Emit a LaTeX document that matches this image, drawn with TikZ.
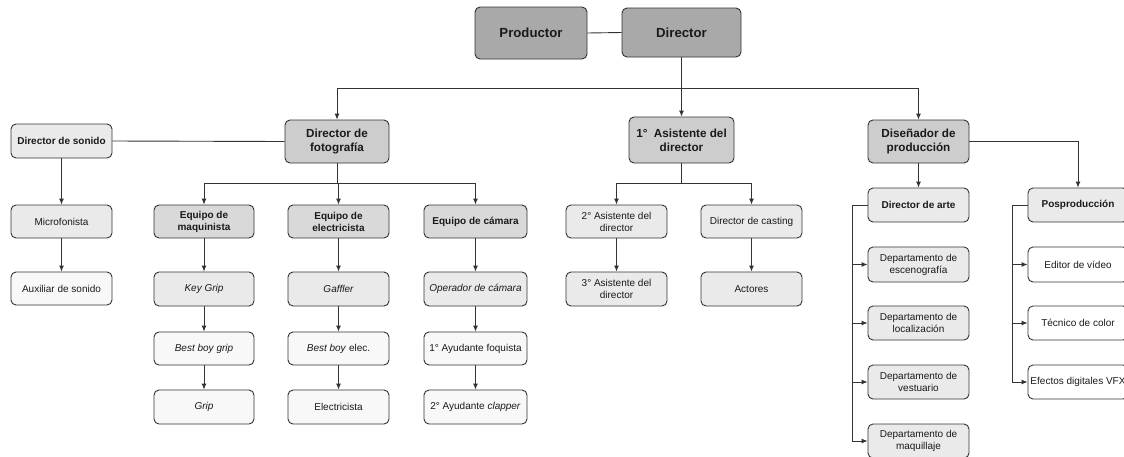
\documentclass[tikz,border=0pt]{standalone}
\usepackage{fontspec}
\setmainfont{Liberation Sans}
\usetikzlibrary{arrows.meta}
\definecolor{cTop}{HTML}{A9A9A9}
\definecolor{cMid}{HTML}{CDCDCD}
\definecolor{cHead}{HTML}{D9D9D9}
\definecolor{cLight}{HTML}{EAEAEA}
\definecolor{cPale}{HTML}{F8F8F8}
\definecolor{cLine}{HTML}{333333}
\definecolor{cText}{HTML}{1A1A1A}
\tikzset{
  box/.style={rectangle, rounded corners=5pt, draw=cLine, line width=0.9pt, inner sep=0pt,
    align=center, text=cText, minimum width=101pt, minimum height=34pt,
    font=\fontsize{10}{12}\selectfont},
  topbox/.style={box, fill=cTop, font=\fontsize{13.2}{15}\selectfont\bfseries},
  midbox/.style={box, fill=cMid, minimum height=43pt, font=\fontsize{11.7}{14}\selectfont\bfseries},
  headbox/.style={box, fill=cHead, font=\fontsize{10}{12}\selectfont\bfseries},
  lightbox/.style={box, fill=cLight},
  palebox/.style={box, fill=cPale},
  whitebox/.style={box, fill=white},
  arr/.style={draw=cLine, line width=0.9pt, -{Latex[length=6pt,width=5pt]}},
  ln/.style={draw=cLine, line width=0.9pt},
}
\begin{document}
\begin{tikzpicture}[x=1pt,y=-1pt]
\clip (0,0) rectangle (1124,456);
\useasboundingbox (0,0) rectangle (1124,456);
\fill[white] (0,0) rectangle (1124,456);
% top
\node[topbox, minimum width=112pt, minimum height=52pt] (prod) at (531,33) {Productor};
\node[topbox, minimum width=119pt, minimum height=49pt] (dir) at (681.5,32.5) {Director};
% level 1
\node[headbox, fill=cLight] (sonido) at (61.5,141) {Director de sonido};
\node[midbox, minimum width=104pt] (dfoto) at (337,141.5) {Director de\\fotografía};
\node[midbox, minimum width=105pt, minimum height=46pt] (asis1) at (681.5,140) {1°~ Asistente del\\director};
\node[midbox] (dise) at (918.5,141.5) {Diseñador de\\producción};
% sound
\node[lightbox, minimum height=33pt] (micro) at (61.5,221.5) {Microfonista};
\node[palebox, minimum height=33pt] (aux) at (61.5,288.5) {Auxiliar de sonido};
% photography
\node[headbox, minimum width=100pt, minimum height=33pt] (maq) at (204,221.5) {Equipo de\\maquinista};
\node[headbox, minimum height=33pt] (elec) at (338.5,221.5) {Equipo de\\electricista};
\node[headbox, minimum width=103pt, minimum height=33pt] (cam) at (475.5,221.5) {Equipo de cámara};
\node[lightbox, minimum width=100pt] (keygrip) at (204,289) {\itshape Key Grip};
\node[lightbox] (gaffer) at (338.5,289) {\itshape Gaffler};
\node[lightbox, minimum width=103pt] (oper) at (475.5,289) {\itshape Operador de cámara};
\node[palebox, minimum width=100pt, minimum height=33pt] (bbgrip) at (204,348.5) {\itshape Best boy grip};
\node[palebox, minimum height=33pt] (bbelec) at (338.5,348.5) {\textit{Best boy} elec.};
\node[palebox, minimum width=103pt, minimum height=33pt] (foq) at (475.5,348.5) {1° Ayudante foquista};
\node[palebox, minimum width=100pt] (grip) at (204,407) {\itshape Grip};
\node[palebox] (electricista) at (338.5,407) {Electricista};
\node[palebox, minimum width=103pt] (clap) at (475.5,407) {2° Ayudante \textit{clapper}};
% assistant
\node[lightbox, minimum height=33pt] (asis2) at (616.5,221.5) {2° Asistente del\\director};
\node[lightbox, minimum height=33pt] (casting) at (751.5,221.5) {Director de casting};
\node[lightbox] (asis3) at (616.5,289) {3° Asistente del\\director};
\node[lightbox] (actores) at (751.5,289) {Actores};
% design
\node[headbox, fill=cLight] (arte) at (918.5,205) {Director de arte};
\node[headbox, fill=cLight, minimum width=100pt] (pospro) at (1078,205) {Posproducción};
\node[lightbox, minimum height=35pt] (esceno) at (918.5,264.5) {Departamento de\\escenografía};
\node[lightbox] (local) at (918.5,323) {Departamento de\\localización};
\node[lightbox] (vest) at (918.5,382) {Departamento de\\vestuario};
\node[lightbox] (maqui) at (918.5,441) {Departamento de\\maquillaje};
\node[whitebox, minimum width=100pt, minimum height=35pt] (editor) at (1078,264.5) {Editor de vídeo};
\node[whitebox, minimum width=100pt] (tecnico) at (1078,323) {Técnico de color};
\node[whitebox, minimum width=100pt] (efectos) at (1078,382) {Efectos digitales VFX};
% connectors
\draw[ln] (prod.east) -- (dir.west);
\coordinate (bus0) at (681.5,88);
\draw[arr] (dir.south) -- (asis1.north);
\draw[arr] (bus0) -| (dfoto.north);
\draw[arr] (bus0) -| (dise.north);
\draw[ln] (sonido.east) -- (dfoto.west);
\draw[arr] (sonido.south) -- (micro.north);
\draw[arr] (micro.south) -- (aux.north);
\coordinate (bus1) at (337,183);
\draw[ln] (dfoto.south) -- (bus1);
\draw[arr] (bus1) -| (maq.north);
\draw[arr] (bus1) -| (elec.north);
\draw[arr] (bus1) -| (cam.north);
\draw[arr] (maq.south) -- (keygrip.north);
\draw[arr] (keygrip.south) -- (bbgrip.north);
\draw[arr] (bbgrip.south) -- (grip.north);
\draw[arr] (elec.south) -- (gaffer.north);
\draw[arr] (gaffer.south) -- (bbelec.north);
\draw[arr] (bbelec.south) -- (electricista.north);
\draw[arr] (cam.south) -- (oper.north);
\draw[arr] (oper.south) -- (foq.north);
\draw[arr] (foq.south) -- (clap.north);
\coordinate (bus2) at (681.5,183);
\draw[ln] (asis1.south) -- (bus2);
\draw[arr] (bus2) -| (asis2.north);
\draw[arr] (bus2) -| (casting.north);
\draw[arr] (asis2.south) -- (asis3.north);
\draw[arr] (casting.south) -- (actores.north);
\draw[arr] (dise.south) -- (arte.north);
\draw[arr] (dise.east) -| (pospro.north);
\coordinate (artebus) at (852,205);
\draw[ln] (arte.west) -- (artebus);
\draw[arr] (artebus) |- (esceno.west);
\draw[arr] (artebus) |- (local.west);
\draw[arr] (artebus) |- (vest.west);
\draw[arr] (artebus) |- (maqui.west);
\coordinate (posbus) at (1012,205);
\draw[ln] (pospro.west) -- (posbus);
\draw[arr] (posbus) |- (editor.west);
\draw[arr] (posbus) |- (tecnico.west);
\draw[arr] (posbus) |- (efectos.west);
\end{tikzpicture}
\end{document}
